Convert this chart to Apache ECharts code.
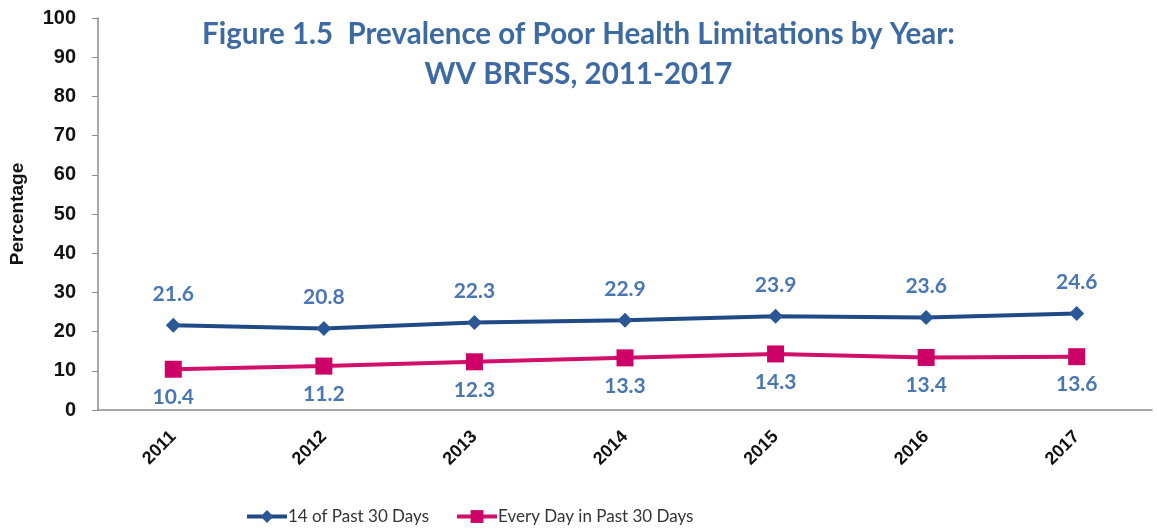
<!DOCTYPE html>
<html lang="en">
<head>
	<meta charset="UTF-8">
	<title>Figure 1.5</title>
	<style>html,body{margin:0;padding:0;background:#fff;}</style>
</head>
<body>
<div id="chart" style="width:1157px;height:531px;"></div>
<script src="https://cdn.jsdelivr.net/npm/echarts@6/dist/echarts.min.js"></script>
<script>
	var years = ['2011', '2012', '2013', '2014', '2015', '2016', '2017'];
	var days14 = [21.6, 20.8, 22.3, 22.9, 23.9, 23.6, 24.6];
	var everyDay = [10.4, 11.2, 12.3, 13.3, 14.3, 13.4, 13.6];

	var labelColor = '#4a77b3';
	var myChart = echarts.init(document.getElementById('chart'));

	var option = {
		animation: false,
		title: {
			text: 'Figure 1.5  Prevalence of Poor Health Limitations by Year:\nWV BRFSS, 2011-2017',
			left: 'center',
			top: 9,
			textStyle: {
				fontFamily: 'Lato',
				fontWeight: 'bold',
				fontSize: 29.5,
				lineHeight: 40,
				color: '#3d6aa3'
			}
		},
		legend: {
			data: ['14 of Past 30 Days', 'Every Day in Past 30 Days'],
			left: 240,
			bottom: 1,
			itemWidth: 40,
			itemHeight: 16,
			itemGap: 26,
			lineStyle: {width: 4},
			textStyle: {fontFamily: 'Lato', fontSize: 17, color: '#333', padding: [0, 0, 0, -4]}
		},
		grid: {left: 95, right: 5, top: 18, bottom: 121},
		xAxis: {
			type: 'category',
			data: years,
			axisLine: {lineStyle: {color: '#8c8c8c', width: 1.5}},
			axisTick: {length: 6, lineStyle: {color: '#8c8c8c'}},
			axisLabel: {
				rotate: 45,
				margin: 24,
				fontFamily: 'Liberation Sans',
				fontWeight: 'bold',
				fontSize: 18,
				color: '#111'
			}
		},
		yAxis: {
			type: 'value',
			min: 0,
			max: 100,
			interval: 10,
			name: 'Percentage',
			nameLocation: 'middle',
			nameGap: 71,
			nameTextStyle: {fontFamily: 'Liberation Sans', fontWeight: 'bold', fontSize: 19, color: '#111'},
			axisLine: {show: true, lineStyle: {color: '#8c8c8c', width: 1.5}},
			axisTick: {show: true, length: 6, lineStyle: {color: '#8c8c8c'}},
			splitLine: {show: false},
			axisLabel: {
				margin: 22,
				fontFamily: 'Liberation Sans',
				fontWeight: 'bold',
				fontSize: 20,
				color: '#111'
			}
		},
		series: [
			{
				name: '14 of Past 30 Days',
				type: 'line',
				data: days14,
				symbol: 'diamond',
				symbolSize: 15,
				lineStyle: {color: '#1f4a86', width: 4},
				itemStyle: {color: '#2b5796'},
				label: {
					show: true,
					position: 'top',
					distance: 13,
					fontFamily: 'Lato',
					fontWeight: 'bold',
					fontSize: 21,
					color: labelColor
				}
			},
			{
				name: 'Every Day in Past 30 Days',
				type: 'line',
				data: everyDay,
				symbol: 'rect',
				symbolSize: 17,
				lineStyle: {color: '#d0106b', width: 4},
				itemStyle: {color: '#cc0066'},
				label: {
					show: true,
					position: 'bottom',
					distance: 9,
					fontFamily: 'Lato',
					fontWeight: 'bold',
					fontSize: 21,
					color: labelColor
				}
			}
		]
	};

	myChart.setOption(option);
</script>
</body>
</html>
